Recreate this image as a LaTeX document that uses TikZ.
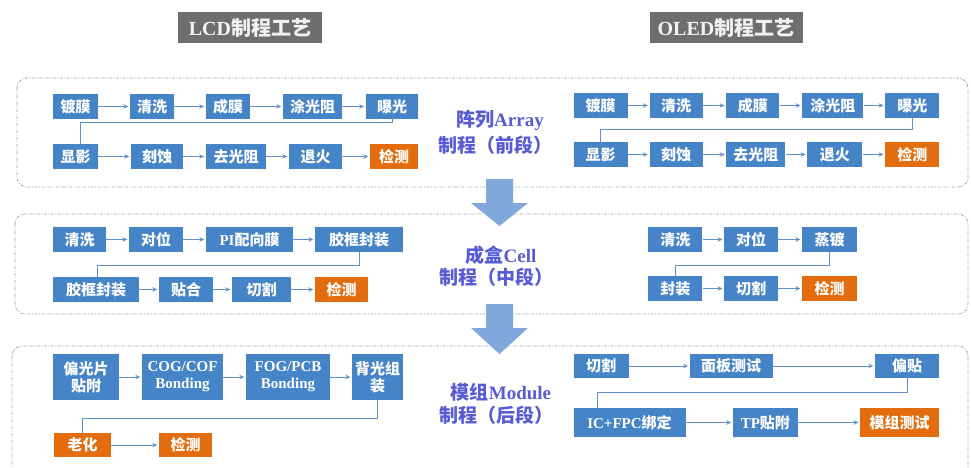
\documentclass[tikz,border=0pt]{standalone}
\usepackage{fontspec}
\setmainfont{Liberation Serif}
\newfontfamily\cjk{Noto Sans CJK SC}
\usetikzlibrary{arrows.meta}
\definecolor{boxblue}{RGB}{70,132,200}
\definecolor{boxorange}{RGB}{226,108,14}
\definecolor{lineblue}{RGB}{98,145,205}
\definecolor{titlegray}{RGB}{110,110,110}
\definecolor{lblblue}{RGB}{88,92,212}
\definecolor{arrowblue}{RGB}{128,168,220}
\definecolor{framegray}{RGB}{165,165,165}
\tikzset{
  bx/.style={fill=boxblue, text=white, font=\cjk\bfseries\fontsize{15}{17}\selectfont,
    inner sep=0pt, minimum height=25pt, align=center},
  ob/.style={bx, fill=boxorange},
  ln/.style={draw=lineblue, line width=1pt},
  ar/.style={ln, -{Stealth[length=5pt,width=4.5pt]}, shorten >=1.5pt},
  framebox/.style={draw=framegray, line width=0.8pt, rounded corners=10pt,
    dash pattern=on 3pt off 1.5pt on 1pt off 1.5pt},
  titlebox/.style={fill=titlegray, text=white!95!black, inner sep=0pt,
    minimum height=31pt, font=\bfseries\fontsize{20}{22}\selectfont},
  lbl/.style={text=lblblue, inner sep=0pt, font=\bfseries\fontsize{19}{22}\selectfont},
  bigarrow/.style={fill=arrowblue, draw=none}
}
\begin{document}
\begin{tikzpicture}[x=1pt,y=-1pt]
\useasboundingbox (0,0) rectangle (971,468);
\clip (0,0) rectangle (971,468);

% titles
\node[titlebox, minimum width=144pt] (t1) at (250,27.5) {LCD{\cjk 制程工艺}};
\node[titlebox, minimum width=153pt] (t2) at (726,27.5) {OLED{\cjk 制程工艺}};

% frames
\draw[framebox] (17,78) rectangle (968,187);
\draw[framebox] (15,214) rectangle (968,314);
\draw[framebox] (12,346) rectangle (968,490);

% ===== Array: LCD =====
\node[bx, minimum width=45pt] (L1a) at (75.5,106.5) {镀膜};
\node[bx, minimum width=44pt] (L1b) at (152,106.5) {清洗};
\node[bx, minimum width=44pt] (L1c) at (228,106.5) {成膜};
\node[bx, minimum width=59pt] (L1d) at (312.5,106.5) {涂光阻};
\node[bx, minimum width=52pt] (L1e) at (392,106.5) {曝光};
\node[bx, minimum width=45pt] (L1f) at (75.5,156.5) {显影};
\node[bx, minimum width=52pt] (L1g) at (157,156.5) {刻蚀};
\node[bx, minimum width=60pt] (L1h) at (236,156.5) {去光阻};
\node[bx, minimum width=53pt] (L1i) at (315.5,156.5) {退火};
\node[ob, minimum width=48pt] (L1j) at (394,156.5) {检测};
\draw[ar] (L1a) -- (L1b);
\draw[ar] (L1b) -- (L1c);
\draw[ar] (L1c) -- (L1d);
\draw[ar] (L1d) -- (L1e);
\draw[ar] (L1f) -- (L1g);
\draw[ar] (L1g) -- (L1h);
\draw[ar] (L1h) -- (L1i);
\draw[ar] (L1i) -- (L1j);
\coordinate (c1) at (80,123);
\draw[ln] (L1e.south) |- (c1) -- (c1 |- L1f.north);

% ===== Array: OLED =====
\node[bx, minimum width=54pt] (O1a) at (600.5,105.5) {镀膜};
\node[bx, minimum width=53pt] (O1b) at (676,105.5) {清洗};
\node[bx, minimum width=53pt] (O1c) at (752.8,105.5) {成膜};
\node[bx, minimum width=61pt] (O1d) at (832.8,105.5) {涂光阻};
\node[bx, minimum width=54pt] (O1e) at (912.3,105.5) {曝光};
\node[bx, minimum width=54pt] (O1f) at (600.5,154.5) {显影};
\node[bx, minimum width=53pt] (O1g) at (676,154.5) {刻蚀};
\node[bx, minimum width=59pt] (O1h) at (755.9,154.5) {去光阻};
\node[bx, minimum width=55pt] (O1i) at (834.9,154.5) {退火};
\node[ob, minimum width=54pt] (O1j) at (912.3,154.5) {检测};
\draw[ar] (O1a) -- (O1b);
\draw[ar] (O1b) -- (O1c);
\draw[ar] (O1c) -- (O1d);
\draw[ar] (O1d) -- (O1e);
\draw[ar] (O1f) -- (O1g);
\draw[ar] (O1g) -- (O1h);
\draw[ar] (O1h) -- (O1i);
\draw[ar] (O1i) -- (O1j);
\coordinate (c2) at (600.5,130);
\draw[ln] (O1e.south) |- (c2) -- (c2 |- O1f.north);

% ===== Cell: LCD =====
\node[bx, minimum width=53pt] (L2a) at (79.5,239.5) {清洗};
\node[bx, minimum width=54pt] (L2b) at (156,239.5) {对位};
\node[bx, minimum width=87pt] (L2c) at (249.5,239.5) {{\rmfamily PI}配向膜};
\node[bx, minimum width=88pt] (L2d) at (359,239.5) {胶框封装};
\node[bx, minimum width=86pt] (L2e) at (96,289.5) {胶框封装};
\node[bx, minimum width=54pt] (L2f) at (186,289.5) {贴合};
\node[bx, minimum width=59pt] (L2g) at (261.5,289.5) {切割};
\node[ob, minimum width=53pt] (L2h) at (341.5,289.5) {检测};
\draw[ar] (L2a) -- (L2b);
\draw[ar] (L2b) -- (L2c);
\draw[ar] (L2c) -- (L2d);
\draw[ar] (L2e) -- (L2f);
\draw[ar] (L2f) -- (L2g);
\draw[ar] (L2g) -- (L2h);
\coordinate (c3) at (97,265);
\draw[ln] (L2d.south) |- (c3) -- (c3 |- L2e.north);

% ===== Cell: OLED =====
\node[bx, minimum width=54pt] (O2a) at (675.4,239.5) {清洗};
\node[bx, minimum width=54pt] (O2b) at (751.2,239.5) {对位};
\node[bx, minimum width=55pt] (O2c) at (829.6,239.5) {蒸镀};
\node[bx, minimum width=54pt] (O2d) at (675.4,288.5) {封装};
\node[bx, minimum width=54pt] (O2e) at (751.2,288.5) {切割};
\node[ob, minimum width=55pt] (O2f) at (829.6,288.5) {检测};
\draw[ar] (O2a) -- (O2b);
\draw[ar] (O2b) -- (O2c);
\draw[ar] (O2d) -- (O2e);
\draw[ar] (O2e) -- (O2f);
\coordinate (c4) at (675.9,265);
\draw[ln] (O2c.south) |- (c4) -- (c4 |- O2d.north);

% ===== Module: LCD =====
\node[bx, minimum width=66pt, minimum height=46pt] (L3a) at (86,377) {偏光片\\贴附};
\node[bx, minimum width=81pt, minimum height=46pt] (L3b) at (182.5,377) {\rmfamily COG/COF\\\rmfamily Bonding};
\node[bx, minimum width=84pt, minimum height=46pt] (L3c) at (288,377) {\rmfamily FOG/PCB\\\rmfamily Bonding};
\node[bx, minimum width=51pt, minimum height=46pt] (L3d) at (377.5,377) {背光组\\装};
\node[ob, minimum width=57pt, minimum height=24pt] (L3e) at (82.5,445) {老化};
\node[ob, minimum width=53pt, minimum height=24pt] (L3f) at (185.5,445) {检测};
\draw[ar] (L3a) -- (L3b);
\draw[ar] (L3b) -- (L3c);
\draw[ar] (L3c) -- (L3d);
\draw[ar] (L3e) -- (L3f);
\coordinate (c5) at (82,418);
\draw[ln] (L3d.south) |- (c5) -- (c5 |- L3e.north);

% ===== Module: OLED =====
\node[bx, minimum width=55pt, minimum height=24pt] (O3a) at (601.1,366) {切割};
\node[bx, minimum width=83pt, minimum height=24pt] (O3b) at (731.2,366) {面板测试};
\node[bx, minimum width=64pt, minimum height=24pt] (O3c) at (907,366) {偏贴};
\node[bx, minimum width=112pt, minimum height=29pt] (O3d) at (629.5,422.5) {{\rmfamily IC+FPC}绑定};
\node[bx, minimum width=65pt, minimum height=29pt] (O3e) at (765.4,422.5) {{\rmfamily TP}贴附};
\node[ob, minimum width=79pt, minimum height=29pt] (O3f) at (899.7,422.5) {模组测试};
\draw[ar] (O3a) -- (O3b);
\draw[ar] (O3b) -- (O3c);
\draw[ar] (O3d) -- (O3e);
\draw[ar] (O3e) -- (O3f);
\coordinate (c6) at (597,392);
\draw[ln] (O3c.south) |- (c6) -- (c6 |- O3d.north);

% ===== center labels =====
\node[lbl] (la1) at (500,120) {{\cjk 阵列}Array};
\node[lbl] (la2) at (495,145) {\cjk 制程（前段）};
\node[lbl] (lb1) at (501,255) {{\cjk 成盒}Cell};
\node[lbl] (lb2) at (496,277) {\cjk 制程（中段）};
\node[lbl] (lc1) at (501,392) {{\cjk 模组}Module};
\node[lbl] (lc2) at (496,415) {\cjk 制程（后段）};

% ===== big arrows =====
\fill[bigarrow] (486,179) -- (513,179) -- (513,203) -- (528,203) -- (499.5,226)
  -- (471,203) -- (486,203) -- cycle;
\fill[bigarrow] (486,304) -- (513,304) -- (513,328) -- (528,328) -- (499.5,354)
  -- (471,328) -- (486,328) -- cycle;
\end{tikzpicture}
\end{document}
